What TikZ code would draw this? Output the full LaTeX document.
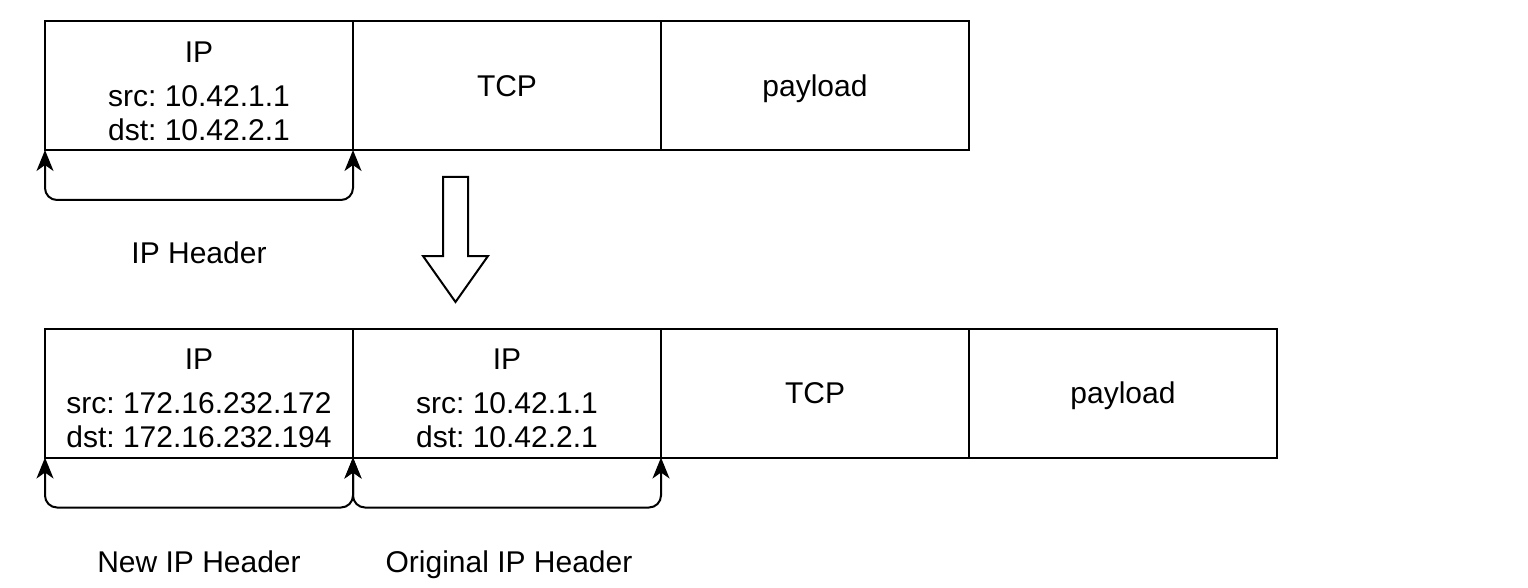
\documentclass[tikz,border=0pt]{standalone}
\usepackage{fontspec}
\setmainfont{Liberation Sans}
\usetikzlibrary{positioning,arrows.meta}
\frenchspacing
\tikzset{
    field/.style={draw, line width=2pt, minimum width=308pt, minimum height=129pt,
        inner sep=0pt, outer sep=0pt, align=center, text height=110pt,
        font=\fontsize{30}{34}\selectfont},
    word/.style={field, text height=21.5pt, text depth=0pt},
    hdrspan/.style={{Stealth[length=21pt,width=17pt,inset=6pt]}-{Stealth[length=21pt,width=17pt,inset=6pt]},
        line width=2pt, rounded corners=12pt},
    hdrlabel/.style={anchor=base, font=\fontsize{30}{34}\selectfont}
}

\begin{document}
\begin{tikzpicture}[x=1pt,y=-1pt]
    \useasboundingbox (0,0) rectangle (1528,588);
    % original packet
    \node[field] (ip1) at (199,85.5) {IP\\[10pt]src: 10.42.1.1\\dst: 10.42.2.1};
    \node[word, right=0pt of ip1] (tcp1) {TCP};
    \node[word, right=0pt of tcp1] (pay1) {payload};
    \draw[hdrspan] (ip1.south west) -- ++(0,50) -| (ip1.south east);
    \node[hdrlabel] (hdr1) at (199,263) {IP Header};
    % hollow arrow
    \draw[line width=2pt] (443,177) -- (468,177) -- (468,256) -- (488,256)
        -- (455.5,302) -- (423,256) -- (443,256) -- cycle;
    % encapsulated packet
    \node[field] (newip) at (199,393) {IP\\[10pt]src: 172.16.232.172\\dst: 172.16.232.194};
    \node[field, right=0pt of newip] (ip2) {IP\\[10pt]src: 10.42.1.1\\dst: 10.42.2.1};
    \node[word, right=0pt of ip2] (tcp2) {TCP};
    \node[word, right=0pt of tcp2] (pay2) {payload};
    \draw[hdrspan] (newip.south west) -- ++(0,50) -| (newip.south east);
    \draw[hdrspan] (ip2.south west) -- ++(0,50) -| (ip2.south east);
    \node[hdrlabel] (hdr2) at (199,572) {New IP Header};
    \node[hdrlabel] (hdr3) at (509,572) {Original IP Header};
\end{tikzpicture}
\end{document}
